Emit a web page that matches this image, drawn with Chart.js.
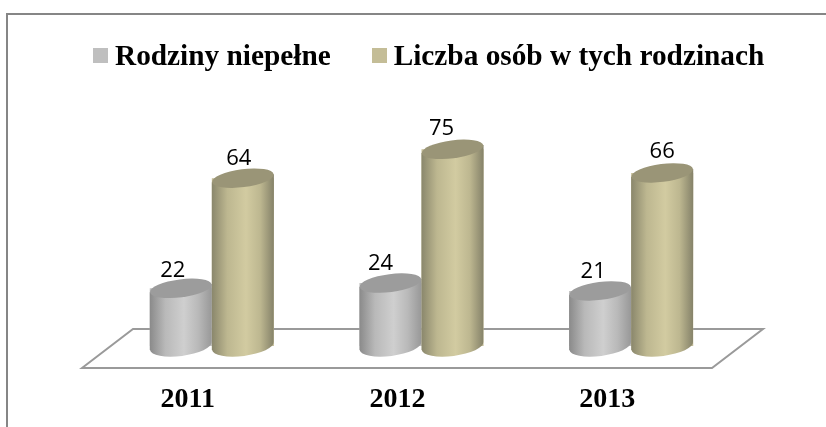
<!DOCTYPE html>
<html>
<head>
<meta charset="utf-8">
<script src="https://cdn.jsdelivr.net/npm/chart.js@4"></script>
<style>
  html, body { margin: 0; padding: 0; background: #fff; overflow: hidden; }
  #wrap { position: relative; width: 826px; height: 427px; }
  #frame { position: absolute; left: 6px; top: 13px; right: 0; bottom: 0; border-left: 2px solid #868686; border-top: 2px solid #868686; }
  #legend { position: absolute; left: 93px; top: 38px; display: flex; font: bold 29.3px "Liberation Serif", serif; color: #000; white-space: nowrap; line-height: 34px; }
  #legend .item { display: flex; align-items: center; margin-right: 41px; }
  #legend .box { width: 15px; height: 15px; margin-right: 7px; }
  canvas { position: absolute; left: 0; top: 0; }
</style>
</head>
<body>
<div id="wrap">
  <div id="frame"></div>
  <canvas id="cylinders" width="826" height="427"></canvas>
  <div id="legend"></div>
</div>
<script>
var categories = ['2011', '2012', '2013'];
var rodziny = [22, 24, 21];
var osoby = [64, 75, 66];
var seriesNames = ['Rodziny niepełne', 'Liczba osób w tych rodzinach'];

// edge / shoulder / middle / edge of the cylinder shading, then the cap colour
var shades = [
  { edge: '#8a8a8a', shoulder: '#b9b9b9', mid: '#cfcfcf', edge2: '#989898', cap: '#9c9c9c' },
  { edge: '#8a876c', shoulder: '#bdb790', mid: '#d2cba1', edge2: '#858269', cap: '#9a9577' }
];

// the labels in the reference do not sit centred over the bars
var labelNudge = [
  [[-8, -18], [-10, -19], [-7, -19]],
  [[-4, -19], [-11, -21], [0, -21]]
];

function drawCylinder(ctx, bar, shade) {
  var rx = bar.width / 2, ry = 9, tilt = -0.13;
  var left = bar.x - rx, right = bar.x + rx;
  var dy = Math.sin(tilt) * rx;

  var grad = ctx.createLinearGradient(left, 0, right, 0);
  grad.addColorStop(0, shade.edge);
  grad.addColorStop(0.25, shade.shoulder);
  grad.addColorStop(0.55, shade.mid);
  grad.addColorStop(0.78, shade.shoulder);
  grad.addColorStop(1, shade.edge2);

  // body: top ellipse centre down to the lower half of the base ellipse
  ctx.beginPath();
  ctx.moveTo(left, bar.y - dy);
  ctx.lineTo(left, bar.base - dy);
  ctx.ellipse(bar.x, bar.base, rx, ry + 1, tilt, Math.PI, 0, true);
  ctx.lineTo(right, bar.y + dy);
  ctx.closePath();
  ctx.fillStyle = grad;
  ctx.fill();

  ctx.beginPath();
  ctx.ellipse(bar.x, bar.y, rx, ry, tilt, 0, Math.PI * 2);
  ctx.fillStyle = shade.cap;
  ctx.fill();
}

var cylinderPlugin = {
  id: 'cylinders',
  beforeDatasetsDraw: function(chart) {
    // floor of the 3D chart
    var ctx = chart.ctx, area = chart.chartArea;
    var base = chart.scales.y.getPixelForValue(0);
    ctx.save();
    ctx.beginPath();
    ctx.moveTo(area.left - 25, base + 22);
    ctx.lineTo(area.left + 26, base - 17);
    ctx.lineTo(area.right + 27, base - 17);
    ctx.lineTo(area.right - 24, base + 22);
    ctx.closePath();
    ctx.lineWidth = 2;
    ctx.strokeStyle = '#9a9a9a';
    ctx.stroke();
    ctx.restore();
  },
  afterDatasetsDraw: function(chart) {
    var ctx = chart.ctx;
    ctx.save();
    categories.forEach(function(cat, i) {
      [0, 1].forEach(function(d) {
        var bar = chart.getDatasetMeta(d).data[i];
        drawCylinder(ctx, bar, shades[d]);
      });
    });
    ctx.font = '22px "Open Sans", sans-serif';
    ctx.fillStyle = '#000';
    ctx.textAlign = 'center';
    ctx.textBaseline = 'middle';
    [0, 1].forEach(function(d) {
      var vals = chart.data.datasets[d].data;
      chart.getDatasetMeta(d).data.forEach(function(bar, i) {
        ctx.fillText(vals[i], bar.x + labelNudge[d][i][0], bar.y + labelNudge[d][i][1]);
      });
    });
    ctx.restore();
  }
};

var ctx = document.getElementById('cylinders').getContext('2d');
var chart = new Chart(ctx, {
  type: 'bar',
  data: {
    labels: categories,
    datasets: [
      { label: seriesNames[0], data: rodziny, backgroundColor: '#bfbfbf', barPercentage: 1, categoryPercentage: 0.592 },
      { label: seriesNames[1], data: osoby, backgroundColor: '#c4bd97', barPercentage: 1, categoryPercentage: 0.592 }
    ]
  },
  options: {
    responsive: false,
    animation: false,
    layout: { padding: { left: 107, right: 90, top: 110, bottom: 0 } },
    plugins: { legend: { display: false }, tooltip: { enabled: false } },
    scales: {
      x: {
        grid: { display: false, drawTicks: false },
        border: { display: false },
        afterFit: function(scale) { scale.height = 81; },
        ticks: {
          color: '#000',
          padding: 37,
          labelOffset: -24,
          maxRotation: 0,
          font: { family: '"Liberation Serif", serif', size: 28, weight: 'bold' }
        }
      },
      y: { display: false, min: 0, max: 90 }
    }
  },
  plugins: [cylinderPlugin]
});

// legend lives in the page so the swatch/text gap can match
var legendEl = document.getElementById('legend');
chart.data.datasets.forEach(function(ds) {
  var item = document.createElement('div');
  item.className = 'item';
  var box = document.createElement('span');
  box.className = 'box';
  box.style.background = ds.backgroundColor;
  var text = document.createElement('span');
  text.textContent = ds.label;
  item.appendChild(box);
  item.appendChild(text);
  legendEl.appendChild(item);
});
</script>
</body>
</html>
